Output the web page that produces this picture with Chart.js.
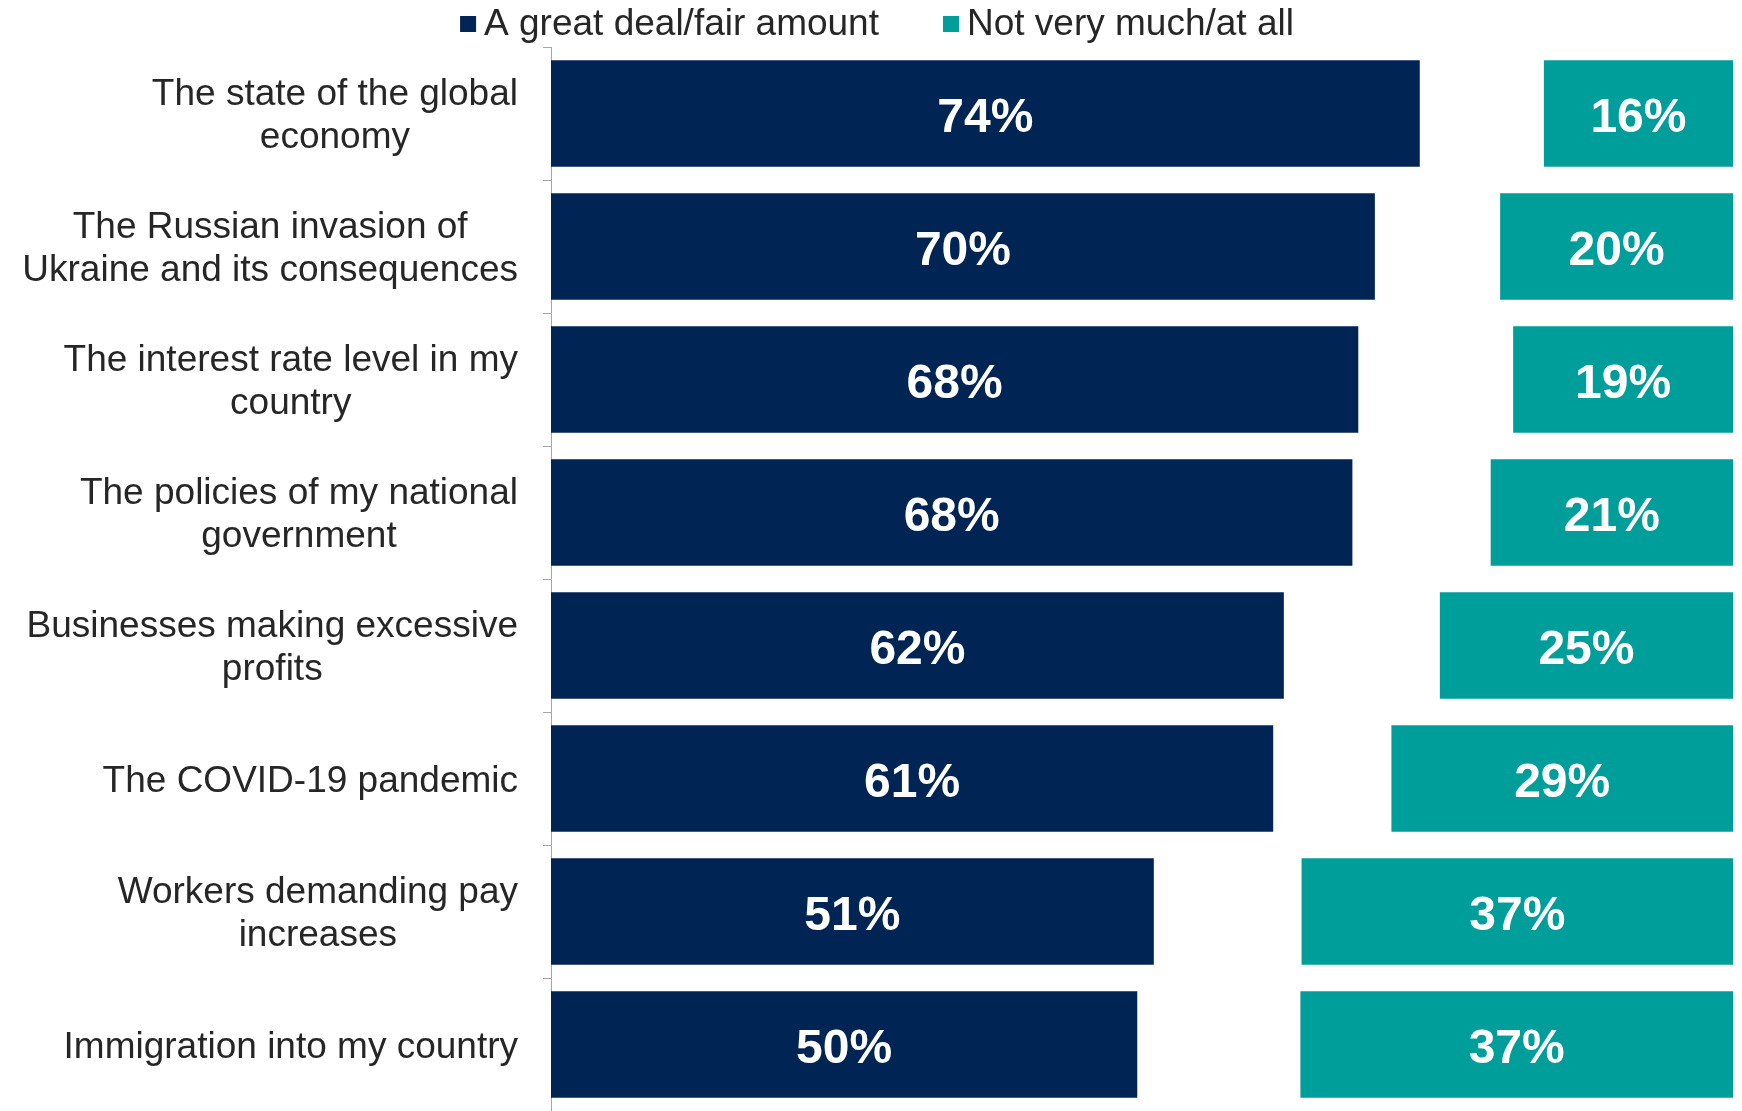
<!DOCTYPE html>
<html>
<head>
<meta charset="utf-8">
<title>Impact on cost of living</title>
<script src="https://cdn.jsdelivr.net/npm/chart.js@4.4.0/dist/chart.umd.min.js"></script>
<style>
  html, body { margin: 0; padding: 0; background: #fff; }
  .chart-box { width: 1742px; height: 1111px; position: relative; }
</style>
</head>
<body>
<div class="chart-box"><canvas id="chart"></canvas></div>
<script>
const categories = [
  ['The state of the global', 'economy'],
  ['The Russian invasion of', 'Ukraine and its consequences'],
  ['The interest rate level in my', 'country'],
  ['The policies of my national', 'government'],
  ['Businesses making excessive', 'profits'],
  ['The COVID-19 pandemic'],
  ['Workers demanding pay', 'increases'],
  ['Immigration into my country']
]
const greatDeal = [73.5, 69.7, 68.3, 67.8, 62.0, 61.1, 51.0, 49.6]
const notMuch = [16.0, 19.7, 18.6, 20.5, 24.8, 28.9, 36.5, 36.6]
const seriesNames = ['A great deal/fair amount', 'Not very much/at all']
const seriesColors = ['#002454', '#009e9b']

const FONT = '"Liberation Sans", Arial, sans-serif'

// Percent labels inside the bars
const barLabels = {
  id: 'barLabels',
  afterDatasetsDraw(chart) {
    const ctx = chart.ctx
    const values = [greatDeal, notMuch]
    ctx.save()
    ctx.font = 'bold 48px ' + FONT
    ctx.fillStyle = '#ffffff'
    ctx.textAlign = 'center'
    ctx.textBaseline = 'middle'
    chart.data.datasets.forEach((ds, i) => {
      chart.getDatasetMeta(i).data.forEach((bar, j) => {
        ctx.fillText(Math.round(values[i][j]) + '%', (bar.x + bar.base) / 2, bar.y + 5)
      })
    })
    ctx.restore()
  }
}

// Category names: block right aligned, lines centered inside the block
const categoryLabels = {
  id: 'categoryLabels',
  afterDraw(chart) {
    const ctx = chart.ctx
    const yScale = chart.scales.y
    const right = yScale.right - 33
    const lineH = 43
    ctx.save()
    ctx.font = '37px ' + FONT
    ctx.fillStyle = '#262626'
    ctx.textAlign = 'center'
    ctx.textBaseline = 'middle'
    categories.forEach((lines, i) => {
      const blockW = Math.max(...lines.map(l => ctx.measureText(l).width))
      const cx = right - blockW / 2
      const y0 = yScale.getPixelForTick(i) + 3 - (lines.length - 1) * lineH / 2
      lines.forEach((l, k) => ctx.fillText(l, cx, y0 + k * lineH))
    })
    ctx.restore()
  }
}

// Legend on top, small squares
const topLegend = {
  id: 'topLegend',
  afterDraw(chart) {
    const ctx = chart.ctx
    const box = 16, boxGap = 8, itemGap = 64, y = 24
    ctx.save()
    ctx.font = '37px ' + FONT
    ctx.textBaseline = 'middle'
    ctx.textAlign = 'left'
    const widths = seriesNames.map(n => box + boxGap + ctx.measureText(n).width)
    const total = widths.reduce((a, b) => a + b, 0) + itemGap * (seriesNames.length - 1)
    let x = chart.width / 2 + 6 - total / 2
    seriesNames.forEach((name, i) => {
      ctx.fillStyle = seriesColors[i]
      ctx.fillRect(x, y - box / 2, box, box)
      ctx.fillStyle = '#262626'
      ctx.fillText(name, x + box + boxGap, y + 1)
      x += widths[i] + itemGap
    })
    ctx.restore()
  }
}

new Chart(document.getElementById('chart'), {
  type: 'bar',
  data: {
    labels: categories,
    datasets: [{
      label: seriesNames[0],
      data: greatDeal,
      backgroundColor: seriesColors[0],
      grouped: false,
      categoryPercentage: 0.8,
      barPercentage: 1
    }, {
      label: seriesNames[1],
      // right-aligned bars ending at 100
      data: notMuch.map(v => [100 - v, 100]),
      backgroundColor: seriesColors[1],
      grouped: false,
      categoryPercentage: 0.8,
      barPercentage: 1
    }]
  },
  options: {
    indexAxis: 'y',
    responsive: true,
    maintainAspectRatio: false,
    animation: false,
    layout: { padding: { top: 47, right: 9, bottom: 0, left: 0 } },
    plugins: {
      legend: { display: false },
      tooltip: { enabled: false }
    },
    scales: {
      x: { min: 0, max: 100, display: false },
      y: {
        ticks: { display: false },
        grid: { offset: true, drawOnChartArea: false, drawTicks: true, tickLength: 8, color: '#a6a6a6' },
        border: { color: '#a6a6a6' },
        afterFit: (scale) => { scale.width = 551 }
      }
    }
  },
  plugins: [barLabels, categoryLabels, topLegend]
})
</script>
</body>
</html>
